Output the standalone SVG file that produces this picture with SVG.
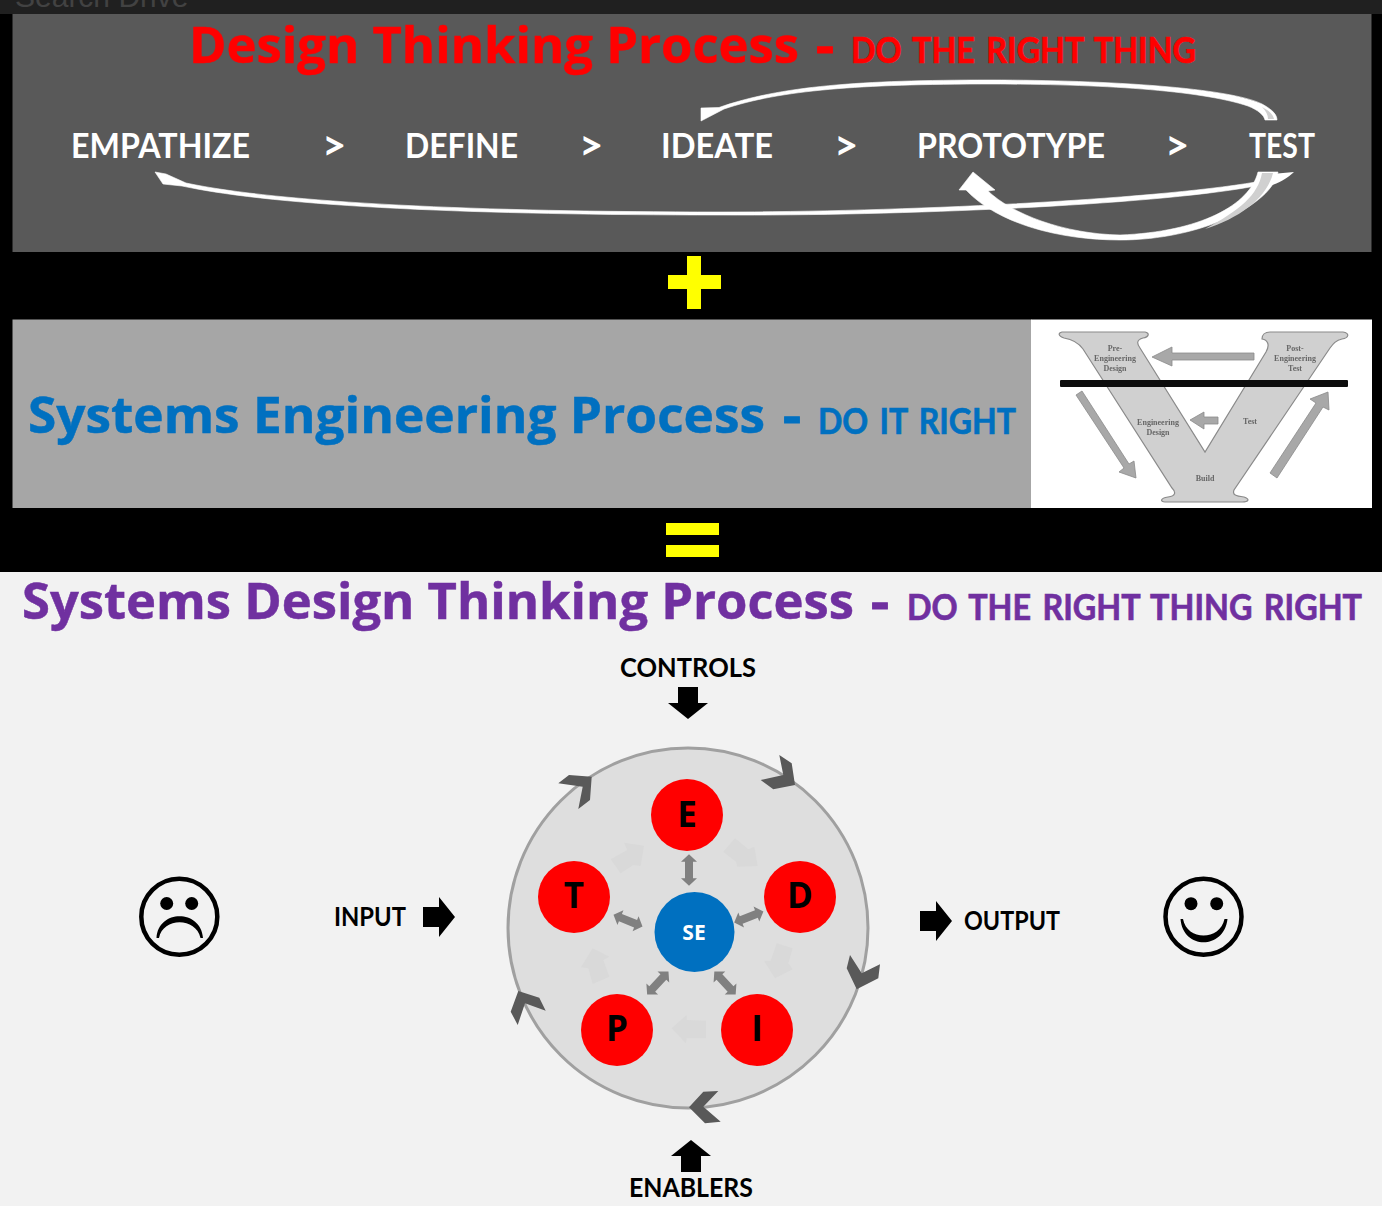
<svg xmlns="http://www.w3.org/2000/svg" width="1382" height="1206" viewBox="0 0 1382 1206">
<defs>
<style>
.t{font-family:"Open Sans","Noto Sans","Liberation Sans",sans-serif;font-weight:700}
.s{font-family:"Lato","Noto Sans","Liberation Sans",sans-serif;font-weight:700}
.sub{font-size:36px;word-spacing:4px;stroke-width:.7px}
.w{fill:#fff}
.gt{font-size:42px}
.lb{font-size:35px}
.fb{fill:#000}
.ln{fill:#fff;stroke:#fff;stroke-width:.6}
.ghost{fill:#d9d9d9}
.bi{fill:#808080}
.chev{fill:#595959}
.node{fill:#f00}
.nl{font-size:35px;text-anchor:middle}
.v{fill:#d0d0d0;stroke:#8a8a8a;stroke-width:1.2}
.va{fill:#a8a8a8;stroke:#8a8a8a;stroke-width:.8}
.vt{font-family:"Liberation Serif",serif;font-size:8px;font-weight:700;fill:#666;text-anchor:middle}
.fc{fill:none;stroke:#000;stroke-width:4.5}
</style>
<filter id="soft" x="-5%" y="-5%" width="110%" height="110%"><feGaussianBlur stdDeviation=".6"/></filter>
<path id="bi" d="M0,-23 L8,-12 L4,-12 L4,12 L8,12 L0,23 L-8,12 L-4,12 L-4,-12 L-8,-12 Z"/>
<path id="black" d="M-16,-10 L0,-10 L0,-20 L16,0 L0,20 L0,10 L-16,10 Z"/>
</defs>
<rect width="1382" height="1206" fill="#000"/>
<rect width="1382" height="14" fill="#202020"/>
<text x="15" y="7" font-family="Liberation Sans,sans-serif" font-size="30" fill="#424242">Search Drive</text>
<rect x="12.500" y="14" width="1359" height="238" fill="#595959"/>
<rect x="12.500" y="319.500" width="1019" height="188.500" fill="#a6a6a6"/>
<rect x="1031" y="319.500" width="341" height="188.500" fill="#fff"/>
<rect y="572" width="1382" height="634" fill="#f2f2f2"/>

<g id="title-dt" fill="#f00" stroke="#f00">
<text class="t" x="189" y="63" font-size="50" stroke-width=".5" textLength="610" lengthAdjust="spacingAndGlyphs">Design Thinking Process</text>
<text class="t" x="816" y="63" font-size="50" textLength="18" lengthAdjust="spacingAndGlyphs">-</text>
<text class="s sub" transform="translate(851,63) scale(.9,1)" textLength="383.300" lengthAdjust="spacingAndGlyphs">DO THE RIGHT THING</text>
</g>
<g id="steps">
<text class="s w lb" x="71" y="158" textLength="179" lengthAdjust="spacingAndGlyphs">EMPATHIZE</text>
<text class="s w gt" x="322" y="160">&gt;</text>
<text class="s w lb" x="405" y="158" textLength="113" lengthAdjust="spacingAndGlyphs">DEFINE</text>
<text class="s w gt" x="579" y="160">&gt;</text>
<text class="s w lb" x="661" y="158" textLength="112" lengthAdjust="spacingAndGlyphs">IDEATE</text>
<text class="s w gt" x="834" y="160">&gt;</text>
<text class="s w lb" x="917" y="158" textLength="188" lengthAdjust="spacingAndGlyphs">PROTOTYPE</text>
<text class="s w gt" x="1165" y="160">&gt;</text>
<text class="s w lb" x="1249" y="158" textLength="66" lengthAdjust="spacingAndGlyphs">TEST</text>
</g>
<g id="connectors">
<path class="ln" d="M701,121 L701,108 L719,107.500 C780,86 860,80 990,80 C1110,80 1230,88 1262,104 C1273,110 1277,115 1277,120 L1265,120 C1264,115 1258,110 1248,106 C1200,90 1100,84 990,84 C860,84 780,90 724,109 Z"/>
<path d="M1268,119 L1274,119 C1273,115 1270,111 1262,107 C1266,111 1268,115 1268,119 Z" fill="#cfcfcf"/>
<path class="ln" d="M155,172 L166,174 L186,183 C280,203 480,212 720,212 C900,212 1150,200 1256,182 L1266,178 C1262,183 1258,185 1250,187 C1150,205 900,216 720,215 C480,215 280,207 182,186 L163,184 Z"/>
<path d="M1294,172 L1272,174 L1262,182 L1268,186 C1276,185 1288,178 1294,172 Z" fill="#fff"/>
<path class="ln" d="M959,190 L973,172 L995,190 L988,191 C1012,214 1064,234 1120,235 C1200,232 1250,205 1258,172 L1278,172 C1272,205 1200,240 1120,240 C1060,240 998,224 966,190 Z"/>
<path d="M1262,173 L1273,173 C1267,198 1240,218 1205,229 C1240,210 1258,195 1262,173 Z" fill="#d0d0d0"/>
</g>
<path id="plus" fill="#ff0" d="M687,256 H701 V275 H721 V289 H701 V309 H687 V289 H668 V275 H687 Z"/>
<g id="title-se" fill="#0070c0" stroke="#0070c0">
<text class="t" x="28" y="433" font-size="50" stroke-width=".5" textLength="737" lengthAdjust="spacingAndGlyphs">Systems Engineering Process</text>
<text class="t" x="783" y="433" font-size="50" textLength="18" lengthAdjust="spacingAndGlyphs">-</text>
<text class="s sub" transform="translate(818,434) scale(.9,1)" textLength="220" lengthAdjust="spacingAndGlyphs">DO IT RIGHT</text>
</g>
<g id="v-model" filter="url(#soft)">
<path class="v" d="M1062,332 H1145 C1150,333 1149,337 1143,338 C1136,340 1137,344 1140,348 L1205,452 L1266,352 C1270,345 1268,340 1262,339 C1262,335 1265,332 1270,332 H1343 C1350,333 1349,338 1342,339 C1336,340 1333,344 1330,348 L1234,490 C1232,495 1236,496 1244,497 C1250,499 1249,502 1242,502 H1165 C1160,502 1160,498 1168,497 C1176,496 1176,492 1172,488 L1083,349 C1078,342 1070,339 1064,338 C1058,336 1058,333 1062,332 Z"/>
<path class="va" d="M1254,353 H1172 V347 L1152,357 L1172,366 V360 H1254 Z"/>
<path class="va" d="M1218,417 H1204 V412 L1190,420 L1204,429 V424 H1218 Z"/>
<path class="va" d="M1082,391 L1076,395 L1124,468 L1119,472 L1136,478 L1134,461 L1129,464 Z"/>
<path class="va" d="M1277,478 L1270,473 L1316,403 L1310,399 L1328,392 L1329,410 L1323,407 Z"/>
<rect x="1060" y="380" width="288" height="7" rx="1" fill="#111"/>
<text class="vt" x="1115" y="351">Pre-</text><text class="vt" x="1115" y="361">Engineering</text><text class="vt" x="1115" y="371">Design</text>
<text class="vt" x="1295" y="351">Post-</text><text class="vt" x="1295" y="361">Engineering</text><text class="vt" x="1295" y="371">Test</text>
<text class="vt" x="1158" y="425">Engineering</text><text class="vt" x="1158" y="435">Design</text>
<text class="vt" x="1250" y="424">Test</text><text class="vt" x="1205" y="481">Build</text>
</g>
<path id="equals" fill="#ff0" d="M666,523 H719 V535 H666 Z M666,545 H719 V557 H666 Z"/>
<g id="title-sdt" fill="#7030a0" stroke="#7030a0">
<text class="t" x="22" y="619" font-size="50" stroke-width=".5" textLength="832" lengthAdjust="spacingAndGlyphs">Systems Design Thinking Process</text>
<text class="t" x="871" y="619" font-size="50" textLength="18" lengthAdjust="spacingAndGlyphs">-</text>
<text class="s sub" transform="translate(907,620) scale(.9,1)" textLength="505.500" lengthAdjust="spacingAndGlyphs">DO THE RIGHT THING RIGHT</text>
</g>
<g id="controls">
<text class="s" x="620" y="677" font-size="26" textLength="136" lengthAdjust="spacingAndGlyphs">CONTROLS</text>
<use href="#black" class="fb" transform="translate(688,703) rotate(90)"/>
</g>
<g id="enablers">
<text class="s" x="629" y="1197" font-size="26" textLength="124" lengthAdjust="spacingAndGlyphs">ENABLERS</text>
<use href="#black" class="fb" transform="translate(691,1156) rotate(-90)"/>
</g>
<g id="input">
<text class="s" x="334" y="926" font-size="26" textLength="72" lengthAdjust="spacingAndGlyphs">INPUT</text>
<use href="#black" class="fb" transform="translate(439,917)"/>
</g>
<g id="output">
<use href="#black" class="fb" transform="translate(936,921)"/>
<text class="s" x="964" y="930" font-size="26" textLength="96" lengthAdjust="spacingAndGlyphs">OUTPUT</text>
</g>
<g id="sad">
<circle class="fc" cx="179.300" cy="916.700" r="38"/>
<circle cx="166.700" cy="903.500" r="6.500"/><circle cx="191.700" cy="903.500" r="6.500"/>
<path d="M156.500,938 C158,909 201,909 203,938 L200.500,938 C196,917 163,917 159,938 Z"/>
</g>
<g id="happy">
<circle class="fc" cx="1203.500" cy="916.700" r="38"/>
<circle cx="1191" cy="903.700" r="6.500"/><circle cx="1216.700" cy="903.700" r="6.500"/>
<path d="M1180.500,919 C1183,950 1224,950 1227.500,919 L1224.500,919 C1220,941 1187,941 1183,919 Z"/>
</g>
<g id="cycle">
<circle cx="688" cy="928" r="180" fill="#dedede" stroke="#a0a0a0" stroke-width="3"/>
<path class="chev" d="M779.300,755 L791.700,763.300 L795,785 L773.300,789.300 L760.700,780 L783.300,775 Z"/>
<path class="chev" d="M850,955 L846.700,968.300 L856.700,989.300 L878.300,978.300 L880,964.300 L861.700,973.300 Z"/>
<path class="chev" d="M718.300,1091 L703.300,1091.700 L689,1107.300 L705,1123.300 L720.700,1121.700 L703.300,1106.700 Z"/>
<path class="chev" d="M545.700,1010.700 L539.300,997.700 L518.300,991 L510.700,1011.700 L517.700,1025 L525,1003.300 Z"/>
<path class="chev" d="M558.300,783.300 L569,775 L591.700,776.700 L590,800 L578.300,809 L582.700,786.700 Z"/>
</g>
<g id="ghost-arrows" class="ghost" transform="translate(490,730) scale(.33333)">
<path d="M362,388 L392,430 L430,405 L452,408 L462,347 L402,338 L412,360 Z"/>
<path d="M735,325 L700,365 L738,395 L742,410 L803,408 L793,350 L775,358 Z"/>
<path d="M860,640 L908,655 L895,700 L908,718 L855,745 L822,692 L842,692 Z"/>
<path d="M648,872 L648,925 L590,925 L588,940 L545,895 L590,855 L590,870 Z"/>
<path d="M358,740 L308,762 L295,715 L273,712 L308,655 L358,680 L340,690 Z"/>
</g>
<g id="spokes" class="bi">
<use href="#bi" transform="translate(689,870) scale(1,.68)"/>
<use href="#bi" transform="translate(748.800,917) rotate(69) scale(1,.68)"/>
<use href="#bi" transform="translate(725,983) rotate(-43) scale(1,.68)"/>
<use href="#bi" transform="translate(657.800,983) rotate(43) scale(1,.68)"/>
<use href="#bi" transform="translate(628,920.700) rotate(-68) scale(1,.68)"/>
</g>
<g id="E"><circle class="node" cx="687" cy="815" r="36"/><text class="t nl" x="687" y="827">E</text></g>
<g id="D"><circle class="node" cx="800" cy="897" r="36"/><text class="t nl" x="800" y="908">D</text></g>
<g id="I"><circle class="node" cx="757" cy="1030" r="36"/><text class="t nl" x="757" y="1041">I</text></g>
<g id="P"><circle class="node" cx="617" cy="1030" r="36"/><text class="t nl" x="617" y="1041">P</text></g>
<g id="T"><circle class="node" cx="574" cy="897" r="36"/><text class="t nl" x="574" y="908">T</text></g>
<g id="SE"><circle cx="694.500" cy="932" r="40" fill="#0070c0"/><text class="t" x="694" y="940" font-size="21" fill="#fff" text-anchor="middle">SE</text></g>
</svg>
